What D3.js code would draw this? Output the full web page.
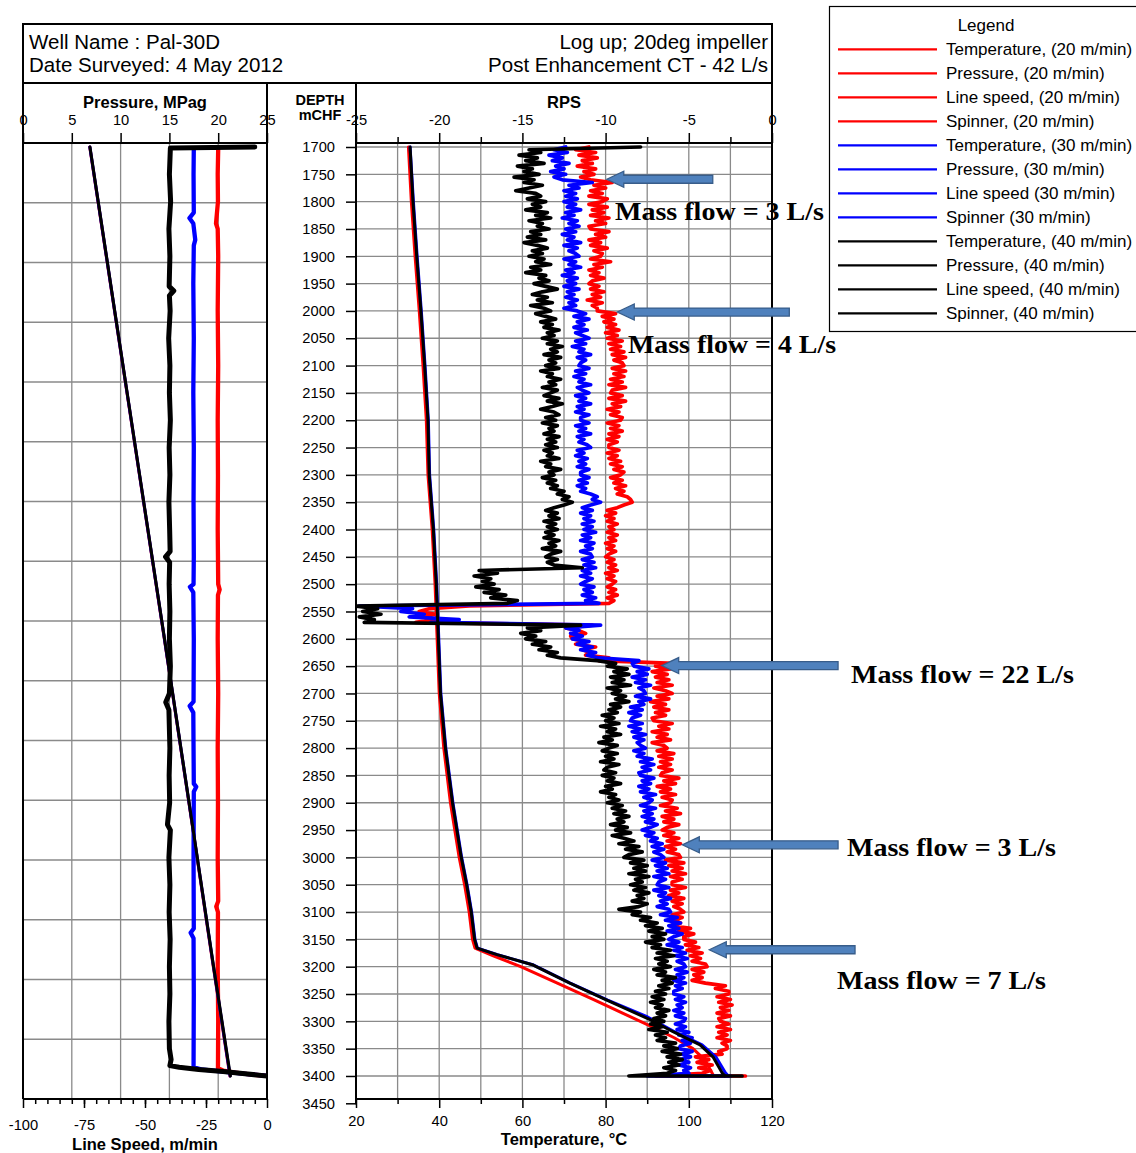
<!DOCTYPE html>
<html>
<head>
<meta charset="utf-8">
<script src="https://cdn.jsdelivr.net/npm/d3@7"></script>
<style>
  body { margin: 0; background: #fff; }
  svg { display: block; font-family: "Liberation Sans", Arial, sans-serif; }
</style>
</head>
<body>
<svg id="chart" width="1136" height="1153"></svg>
<script>
// --- Daten ---
// Tiefe in mCHF, Spinner in RPS, Temperatur in °C, Druck in MPag, Geschwindigkeit in m/min

const depthTicks = d3.range(1700, 3451, 50);
const pressureTicks = [0, 5, 10, 15, 20, 25];
const rpsTicks = [-25, -20, -15, -10, -5, 0];
const tempTicks = [20, 40, 60, 80, 100, 120];
const speedTicks = [-100, -75, -50, -25, 0];

const runs = ['20 m/min', '30 m/min', '40 m/min'];
const runColors = ['#ff0000', '#0000ff', '#000000'];

// Druck (annaehernd gerade Linie)
const pressureDepth = [1700, 2000, 2300, 2600, 2900, 3200, 3400];
const pressure20 = [6.84, 9.38, 11.93, 14.48, 17.0, 19.5, 21.2];
const pressure30 = [6.85, 9.39, 11.94, 14.49, 17.01, 19.52, 21.22];
const pressure40 = [6.86, 9.40, 11.95, 14.50, 17.02, 19.53, 21.25];

// Seilgeschwindigkeit [Tiefe, m/min]
const speed20 = [[1703,-20.0],[1750,-20.2],[1800,-20.1],[1840,-20.9],[1850,-20.2],[1900,-20.0],[2000,-20.2],
  [2100,-20.0],[2200,-20.2],[2300,-20.1],[2400,-20.2],[2500,-20.0],[2510,-19.4],[2520,-20.1],[2600,-20.2],
  [2700,-20.0],[2800,-20.2],[2900,-20.1],[3000,-20.2],[3080,-20.0],[3090,-20.8],[3100,-20.1],[3200,-20.2],
  [3300,-20.0],[3386,-20.1],[3390,-18],[3394,-13],[3397,-7],[3400,0]];
const speed30 = [[1702,-30.0],[1750,-30.1],[1820,-30.0],[1830,-31.8],[1840,-30.2],[1870,-29.4],[1880,-30.0],
  [1950,-30.2],[2050,-30.0],[2150,-30.2],[2250,-30.0],[2350,-30.1],[2450,-30.0],[2500,-30.1],[2505,-31.6],
  [2515,-30.2],[2600,-30.0],[2715,-30.1],[2723,-31.7],[2735,-30.2],[2865,-30.0],[2871,-29.0],[2880,-30.0],
  [3000,-30.1],[3130,-30.0],[3138,-31.3],[3148,-30.1],[3250,-30.0],[3384,-30.1],[3388,-27],[3392,-18],
  [3396,-9],[3400,0]];
const speed40 = [[1700,-5.0],[1702,-39.6],[1750,-40.0],[1800,-39.5],[1850,-40.2],[1900,-39.8],[1955,-40.1],
  [1963,-38.2],[1972,-40.0],[2000,-39.7],[2050,-40.3],[2100,-39.8],[2150,-40.0],[2200,-39.6],[2250,-40.1],
  [2300,-39.8],[2350,-40.2],[2400,-39.9],[2440,-39.7],[2450,-41.6],[2460,-39.9],[2500,-40.1],[2550,-39.8],
  [2600,-40.0],[2650,-39.6],[2700,-40.0],[2716,-41.5],[2730,-40.2],[2800,-39.8],[2850,-40.1],[2900,-39.9],
  [2940,-40.8],[2950,-39.6],[3000,-40.2],[3050,-39.8],[3100,-40.1],[3150,-39.7],[3200,-40.0],[3250,-39.8],
  [3300,-40.2],[3350,-40.0],[3370,-39.3],[3381,-39.8],[3384,-36],[3388,-28],[3392,-18],[3396,-9],[3400,0]];

// Temperatur [Tiefe, °C]
const temp20 = [[1700,32.6],[1800,33.3],[1900,34.2],[2000,35.2],[2100,36.1],[2200,36.9],[2300,37.3],
  [2400,38.3],[2500,39.0],[2600,39.5],[2700,40.0],[2800,41.1],[2900,42.7],[3000,44.8],[3050,46.1],
  [3100,47.2],[3150,48.0],[3166,48.6],[3180,53.0],[3200,59.6],[3230,68.4],[3260,77.0],[3290,85.5],
  [3310,91.2],[3330,96.5],[3350,101.0],[3370,103.8],[3400,106.0]];
const temp30 = [[1700,33.0],[1800,33.8],[1900,34.7],[2000,35.7],[2100,36.6],[2200,37.4],[2300,37.7],
  [2400,38.7],[2500,39.4],[2600,39.9],[2700,40.4],[2800,41.6],[2900,43.3],[3000,45.4],[3050,46.7],
  [3100,47.8],[3150,48.6],[3166,49.2],[3178,54.0],[3197,62.7],[3230,71.5],[3261,80.5],[3292,90.1],
  [3319,96.6],[3343,103.2],[3365,106.5],[3394,108.8],[3400,109.5]];
const temp40 = [[1700,33.0],[1800,33.7],[1900,34.6],[2000,35.6],[2100,36.5],[2200,37.3],[2300,37.6],
  [2400,38.6],[2500,39.3],[2600,39.8],[2700,40.3],[2800,41.5],[2900,43.2],[3000,45.3],[3050,46.6],
  [3100,47.7],[3150,48.5],[3166,49.1],[3178,53.9],[3197,62.6],[3230,71.4],[3261,80.3],[3297,90.7],
  [3319,96.2],[3343,102.7],[3365,105.8],[3394,108.0],[3400,108.7]];

// Spinner in RPS, alle 5 m von 1700 bis 3400 (eine Zeile = 50 m)
const spinnerDepth = d3.range(1700, 3401, 5);
const spinner20 = [
  -11.0,-11.8,-10.6,-11.6,-10.5,-11.4,-10.8,-11.7,-10.6,-11.3,
  -10.7,-11.5,-10.9,-9.6,-10.7,-10.0,-10.9,-10.2,-11.0,-9.9,
  -10.2,-11.0,-9.9,-10.8,-10.1,-10.9,-9.8,-10.6,-10.0,-11.0,
  -10.9,-9.8,-10.6,-10.0,-11.0,-10.3,-10.9,-9.9,-10.7,-10.2,
  -10.3,-10.9,-9.7,-10.7,-10.2,-11.0,-10.4,-10.9,-10.1,-10.8,
  -11.0,-10.4,-10.9,-10.1,-10.8,-10.3,-11.1,-10.2,-10.8,-10.5,
  -10.5,-9.4,-10.2,-9.5,-10.1,-9.4,-9.9,-9.2,-10.0,-9.3,
  -9.9,-9.0,-9.8,-9.1,-9.7,-8.9,-9.6,-8.8,-9.5,-9.0,
  -8.9,-9.6,-8.8,-9.5,-8.9,-9.7,-9.0,-9.8,-8.8,-9.6,
  -9.7,-9.0,-9.8,-8.8,-9.6,-9.1,-9.9,-9.2,-9.7,-9.0,
  -9.1,-9.9,-9.2,-9.7,-9.0,-9.8,-9.2,-9.9,-9.3,-9.8,
  -9.8,-9.2,-9.9,-9.3,-9.8,-9.1,-9.7,-9.0,-9.5,-8.9,
  -9.1,-9.7,-9.0,-9.5,-8.8,-9.4,-8.9,-9.3,-8.7,-8.5,
  -8.4,-8.9,-9.3,-9.9,-9.4,-10.0,-9.5,-9.9,-9.3,-9.8,
  -9.5,-9.9,-9.3,-9.8,-9.4,-10.0,-9.5,-9.9,-9.4,-9.8,
  -10.0,-9.5,-9.9,-9.4,-9.8,-9.3,-10.0,-9.5,-9.9,-9.4,
  -9.6,-9.9,-9.4,-9.8,-9.3,-9.9,-9.5,-9.8,-18.2,-20.6,
  -21.2,-20.2,-21.0,-20.3,-21.4,-10.8,-12.4,-11.6,-11.2,-12.1,
  -12.0,-11.3,-11.8,-10.6,-11.4,-10.9,-11.2,-9.8,-10.4,-5.9,
  -7.0,-6.1,-7.2,-6.3,-7.0,-6.2,-6.9,-6.0,-7.1,-6.4,
  -6.0,-6.9,-6.2,-7.3,-6.4,-7.1,-6.2,-7.0,-6.4,-7.2,
  -7.1,-6.0,-6.8,-6.2,-7.2,-6.3,-6.9,-6.1,-7.2,-6.5,
  -6.3,-6.9,-5.9,-6.8,-6.0,-6.7,-6.1,-6.8,-6.0,-6.6,
  -6.7,-5.6,-6.5,-5.8,-6.9,-6.1,-6.7,-5.8,-6.6,-6.0,
  -6.1,-6.7,-5.7,-6.4,-5.5,-6.6,-5.9,-6.5,-5.6,-6.3,
  -6.6,-5.9,-6.5,-5.6,-6.3,-5.5,-6.4,-5.8,-6.3,-5.6,
  -5.5,-6.4,-5.3,-6.2,-5.4,-6.0,-5.2,-6.1,-5.4,-6.0,
  -6.0,-5.2,-6.1,-5.6,-6.2,-5.3,-6.0,-5.4,-5.9,-5.5,
  -5.3,-6.0,-5.4,-5.9,-5.5,-6.1,-4.9,-5.6,-4.7,-5.3,
  -5.3,-4.6,-5.2,-4.4,-5.1,-4.2,-4.9,-4.3,-4.8,-4.0,
  -3.9,-4.8,-4.1,-4.7,-4.2,-4.8,-4.0,-2.8,-3.4,-2.6,
  -2.6,-3.3,-2.5,-3.2,-2.4,-3.1,-2.6,-3.3,-2.5,-3.2,
  -3.1,-2.6,-3.3,-2.5,-3.2,-2.7,-3.3,-2.5,-3.0,-2.7,
  -2.7,-3.2,-3.0,-4.6,-3.8,-4.5,-3.6,-4.4,-3.7,-4.2,
  -7.0];
const spinner30 = [
  -12.4,-13.1,-12.3,-13.4,-12.6,-13.2,-12.2,-13.0,-12.5,-13.3,
  -12.4,-13.1,-12.6,-10.8,-12.2,-11.6,-12.5,-11.8,-12.4,-11.7,
  -12.5,-11.8,-12.3,-11.5,-12.4,-11.9,-12.6,-11.7,-12.2,-11.6,
  -12.4,-11.8,-12.6,-11.9,-12.3,-11.5,-12.5,-11.7,-12.2,-11.8,
  -11.6,-12.5,-11.8,-12.2,-11.5,-12.4,-11.9,-12.6,-11.7,-12.3,
  -11.8,-12.5,-11.6,-12.3,-11.9,-12.4,-11.7,-12.2,-11.8,-12.5,
  -11.7,-11.2,-11.9,-11.0,-11.7,-11.3,-11.9,-11.1,-11.8,-11.4,
  -11.0,-11.8,-11.2,-12.0,-11.3,-11.6,-10.9,-11.7,-11.2,-11.5,
  -11.6,-11.0,-11.8,-11.2,-11.9,-11.3,-11.6,-10.9,-11.7,-11.4,
  -11.0,-11.8,-11.2,-11.6,-10.9,-11.7,-11.3,-11.8,-11.0,-11.5,
  -11.5,-11.0,-11.8,-11.2,-11.6,-10.9,-11.7,-11.3,-11.6,-11.1,
  -10.9,-11.7,-11.3,-11.8,-11.1,-11.6,-11.2,-11.7,-11.0,-11.5,
  -11.5,-11.0,-11.6,-11.1,-11.7,-11.2,-11.5,-10.9,-10.5,-10.8,
  -10.3,-10.9,-11.4,-10.8,-11.5,-10.9,-11.3,-10.7,-11.4,-10.8,
  -11.3,-10.6,-11.4,-10.9,-11.5,-10.7,-11.2,-10.8,-11.5,-10.9,
  -10.8,-11.4,-10.7,-11.3,-10.6,-11.4,-10.9,-11.5,-10.8,-11.2,
  -11.5,-10.7,-11.3,-10.8,-11.4,-10.6,-11.2,-10.4,-24.8,-21.6,
  -22.3,-20.9,-21.8,-18.8,-20.5,-10.3,-12.4,-11.6,-12.1,-11.4,
  -12.0,-11.0,-11.7,-10.8,-11.5,-10.6,-11.1,-10.4,-8.0,-8.4,
  -8.3,-7.4,-8.1,-7.5,-8.4,-7.6,-8.2,-7.3,-8.0,-7.7,
  -7.6,-8.2,-7.3,-8.0,-7.7,-8.5,-7.8,-8.6,-7.9,-8.4,
  -8.5,-7.8,-8.6,-7.9,-8.4,-7.6,-8.3,-7.7,-8.1,-7.9,
  -7.6,-8.3,-7.7,-8.1,-7.2,-7.9,-7.1,-7.8,-7.3,-8.0,
  -7.9,-7.1,-7.8,-7.3,-8.0,-7.4,-7.9,-7.0,-7.7,-7.2,
  -7.4,-7.9,-7.0,-7.7,-7.2,-7.8,-7.1,-7.6,-6.9,-7.3,
  -7.8,-7.1,-7.6,-6.9,-7.3,-6.6,-7.2,-6.5,-7.1,-6.7,
  -6.5,-7.2,-6.4,-7.0,-6.3,-6.9,-6.2,-7.1,-6.4,-6.8,
  -6.9,-6.2,-7.1,-6.4,-6.8,-6.1,-6.7,-6.3,-6.9,-6.2,
  -6.1,-6.7,-5.7,-6.4,-5.5,-6.2,-5.6,-6.3,-5.4,-5.9,
  -6.2,-5.6,-6.3,-5.4,-5.9,-5.2,-5.8,-5.1,-5.7,-5.3,
  -5.2,-5.8,-5.1,-5.7,-5.3,-5.9,-5.2,-5.8,-5.4,-5.9,
  -5.9,-5.3,-5.8,-5.2,-5.7,-5.4,-5.9,-5.3,-5.8,-5.2,
  -5.3,-5.8,-5.2,-5.7,-5.0,-5.6,-4.8,-5.4,-4.9,-5.5,
  -5.6,-4.8,-5.4,-4.9,-5.5,-5.0,-5.6,-4.9,-5.3,-5.0,
  -7.5];
const spinner40 = [
  -7.9,-14.6,-13.9,-15.2,-14.1,-14.8,-13.7,-15.3,-14.4,-14.9,
  -14.0,-15.5,-14.3,-14.9,-13.8,-14.6,-15.4,-14.2,-13.9,-14.7,
  -13.6,-14.4,-13.9,-14.8,-13.5,-14.2,-13.3,-14.6,-13.8,-14.1,
  -13.4,-14.5,-13.9,-14.7,-13.6,-14.9,-14.1,-13.5,-14.4,-13.8,
  -14.6,-13.7,-14.2,-13.3,-14.5,-13.9,-14.8,-13.6,-14.0,-13.4,
  -14.3,-13.6,-12.9,-13.8,-14.4,-13.5,-14.1,-13.2,-14.5,-13.7,
  -13.3,-14.2,-13.6,-13.0,-13.9,-13.2,-13.7,-12.8,-13.5,-13.1,
  -13.8,-12.9,-13.5,-12.6,-13.3,-12.9,-13.7,-12.7,-13.4,-13.0,
  -13.6,-12.8,-13.9,-13.2,-13.5,-12.7,-13.4,-13.0,-13.8,-12.9,
  -13.3,-13.7,-12.8,-13.5,-12.6,-13.2,-13.9,-13.1,-12.8,-13.6,
  -13.0,-13.8,-12.9,-13.4,-13.1,-13.7,-12.8,-13.5,-13.0,-13.6,
  -12.9,-13.7,-13.2,-13.5,-12.8,-13.9,-13.3,-13.6,-12.7,-13.4,
  -13.1,-13.8,-13.0,-13.5,-12.9,-13.3,-12.5,-12.9,-12.2,-12.6,
  -12.0,-12.5,-13.1,-13.6,-12.9,-13.4,-12.8,-13.7,-13.0,-13.5,
  -12.9,-13.6,-13.1,-13.7,-12.8,-13.4,-13.0,-13.8,-12.7,-13.3,
  -13.6,-12.9,-13.5,-13.1,-11.4,-17.6,-16.5,-17.9,-16.9,-17.4,
  -16.7,-17.8,-16.4,-17.3,-16.0,-16.9,-15.3,-15.9,-25.0,-23.7,
  -24.6,-23.5,-24.8,-23.9,-24.5,-11.5,-14.7,-13.9,-15.1,-14.2,
  -14.8,-13.6,-14.4,-13.3,-14.0,-12.9,-13.5,-12.7,-10.5,-9.4,
  -9.9,-8.7,-9.5,-8.6,-9.7,-8.9,-9.6,-8.5,-9.9,-9.1,
  -9.6,-8.8,-9.4,-8.6,-9.7,-9.1,-9.8,-9.3,-10.2,-9.5,
  -10.0,-9.2,-10.3,-9.4,-9.9,-9.1,-10.1,-9.6,-10.4,-9.3,
  -9.8,-10.2,-9.3,-10.0,-9.5,-10.3,-9.2,-9.9,-10.1,-9.4,
  -10.2,-9.5,-9.9,-9.1,-10.0,-9.6,-10.3,-9.4,-9.8,-9.2,
  -9.9,-9.0,-9.6,-8.8,-9.5,-8.6,-9.3,-8.9,-9.7,-8.7,
  -9.4,-8.5,-9.6,-8.9,-8.3,-9.2,-8.0,-8.8,-7.8,-8.6,
  -8.9,-7.7,-8.5,-7.5,-8.3,-7.6,-8.6,-7.4,-8.2,-7.8,
  -8.5,-7.6,-8.3,-7.4,-8.1,-7.7,-8.4,-7.5,-8.0,-9.2,
  -7.9,-8.4,-7.3,-7.9,-6.9,-7.6,-6.6,-7.4,-6.4,-7.2,
  -6.5,-7.6,-6.7,-7.2,-6.1,-6.9,-5.9,-7.0,-6.3,-6.8,
  -6.1,-7.1,-6.4,-6.9,-5.8,-6.6,-6.0,-6.8,-6.2,-7.0,
  -6.4,-7.2,-6.5,-7.3,-6.6,-7.0,-6.2,-6.9,-6.4,-7.1,
  -6.5,-7.3,-6.6,-7.4,-6.3,-7.0,-6.4,-6.9,-5.8,-6.5,
  -5.7,-6.6,-5.5,-6.3,-5.4,-6.2,-5.6,-6.5,-5.8,-6.3,
  -8.6];
// letzter Punkt bei 3400 m (waagrechter Auslauf nach rechts)
const spinnerEnd = [-1.6, -2.5, -1.8];

const legendLabels = [
  'Temperature, (20 m/min)', 'Pressure, (20 m/min)', 'Line speed, (20 m/min)', 'Spinner, (20 m/min)',
  'Temperature, (30 m/min)', 'Pressure, (30 m/min)', 'Line speed (30 m/min)', 'Spinner (30 m/min)',
  'Temperature, (40 m/min)', 'Pressure, (40 m/min)', 'Line speed, (40 m/min)', 'Spinner, (40 m/min)'];

// Pfeile: Spitze [RPS, Tiefe], Ende in RPS, Beschriftung
const arrowTips = [[-9.93, 1759], [-9.30, 2002], [-6.63, 2649], [-5.39, 2977], [-3.77, 3169]];
const arrowTails = [-3.56, 1.04, 3.97, 3.97, 4.99];
const arrowLabels = ['Mass flow = 3 L/s', 'Mass flow = 4 L/s', 'Mass flow = 22 L/s', 'Mass flow = 3 L/s', 'Mass flow = 7 L/s'];

// --- Layout ---
const svg = d3.select('#chart');
const PLOT_TOP = 143, PLOT_BOTTOM = 1099;
const LEFT_X0 = 23, LEFT_X1 = 267, RIGHT_X0 = 356, RIGHT_X1 = 772;
const GRID = '#8a8a8a';
const TICK_FONT = 14.7;

const yDepth = d3.scaleLinear().domain([1700, 3450]).range([147, 1103.3]);
const xPress = d3.scaleLinear().domain([0, 25]).range([LEFT_X0, LEFT_X1]);
const xSpeed = d3.scaleLinear().domain([-100, 0]).range([LEFT_X0, LEFT_X1]);
const xRps = d3.scaleLinear().domain([-25, 0]).range([RIGHT_X0, RIGHT_X1]);
const xTemp = d3.scaleLinear().domain([20, 120]).range([RIGHT_X0, RIGHT_X1]);

// Clip-Pfade fuer beide Panels
const defs = svg.append('defs');
defs.append('clipPath').attr('id', 'clip-left').append('rect')
  .attr('x', LEFT_X0).attr('y', PLOT_TOP).attr('width', LEFT_X1 - LEFT_X0).attr('height', PLOT_BOTTOM - PLOT_TOP);
defs.append('clipPath').attr('id', 'clip-right').append('rect')
  .attr('x', RIGHT_X0).attr('y', PLOT_TOP).attr('width', RIGHT_X1 - RIGHT_X0).attr('height', PLOT_BOTTOM - PLOT_TOP);

// --- Gitter ---
const grid = svg.append('g').attr('stroke', GRID).attr('stroke-width', 1.3);
[5, 10, 15, 20].forEach(p => {
  grid.append('line').attr('x1', xPress(p)).attr('x2', xPress(p)).attr('y1', PLOT_TOP).attr('y2', PLOT_BOTTOM);
});
d3.range(1, 16).forEach(i => {
  const y = PLOT_TOP + i * (PLOT_BOTTOM - PLOT_TOP) / 16;
  grid.append('line').attr('x1', LEFT_X0).attr('x2', LEFT_X1).attr('y1', y).attr('y2', y);
});
d3.range(-22.5, 0, 2.5).forEach(r => {
  grid.append('line').attr('x1', xRps(r)).attr('x2', xRps(r)).attr('y1', PLOT_TOP).attr('y2', PLOT_BOTTOM);
});
d3.range(1700, 3401, 50).forEach(d => {
  grid.append('line').attr('x1', RIGHT_X0).attr('x2', RIGHT_X1).attr('y1', yDepth(d)).attr('y2', yDepth(d));
});

// --- Kurven ---
const left = svg.append('g').attr('clip-path', 'url(#clip-left)').attr('fill', 'none')
  .attr('stroke-linejoin', 'round').attr('stroke-linecap', 'round');
const right = svg.append('g').attr('clip-path', 'url(#clip-right)').attr('fill', 'none')
  .attr('stroke-linejoin', 'round').attr('stroke-linecap', 'round');

const pressLine = d3.line().x(d => xPress(d[1])).y(d => yDepth(d[0]));
const speedLine = d3.line().x(d => xSpeed(d[1])).y(d => yDepth(d[0]));
const rpsLine = d3.line().x(d => xRps(d[1])).y(d => yDepth(d[0]));
const tempLine = d3.line().x(d => xTemp(d[1])).y(d => yDepth(d[0]));

const pressures = [pressure20, pressure30, pressure40];
const speeds = [speed20, speed30, speed40];
const temps = [temp20, temp30, temp40];
const spinners = [spinner20, spinner30, spinner40];

runs.forEach((run, i) => {
  const pts = pressureDepth.map((d, k) => [d, pressures[i][k]]);
  left.append('path').attr('d', pressLine(pts)).attr('stroke', runColors[i]).attr('stroke-width', 3);
  left.append('path').attr('d', speedLine(speeds[i])).attr('stroke', runColors[i]).attr('stroke-width', i === 2 ? 5 : 4.3);
});

runs.forEach((run, i) => {
  right.append('path').attr('d', tempLine(temps[i])).attr('stroke', runColors[i]).attr('stroke-width', 3);
  const pts = spinners[i].map((v, k) => [spinnerDepth[k], v]);
  pts.push([3400, spinnerEnd[i]]);
  right.append('path').attr('d', rpsLine(pts)).attr('stroke', runColors[i]).attr('stroke-width', 3.7);
});

// --- Rahmen ---
const frame = svg.append('g').attr('stroke', '#000').attr('fill', 'none').attr('stroke-width', 2);
frame.append('rect').attr('x', LEFT_X0).attr('y', 24).attr('width', RIGHT_X1 - LEFT_X0).attr('height', 59);
[LEFT_X0, LEFT_X1, RIGHT_X0, RIGHT_X1].forEach(x => {
  frame.append('line').attr('x1', x).attr('x2', x).attr('y1', 83).attr('y2', PLOT_BOTTOM);
});
[[LEFT_X0, LEFT_X1], [RIGHT_X0, RIGHT_X1]].forEach(([a, b]) => {
  frame.append('line').attr('x1', a).attr('x2', b).attr('y1', PLOT_TOP).attr('y2', PLOT_TOP);
  frame.append('line').attr('x1', a).attr('x2', b).attr('y1', PLOT_BOTTOM).attr('y2', PLOT_BOTTOM);
});

// --- Achsen ---
function styleAxis(g) {
  g.select('.domain').remove();
  g.selectAll('.tick line').attr('stroke', '#000').attr('stroke-width', 1.5);
  g.selectAll('.tick text').attr('fill', '#000').style('font-size', TICK_FONT + 'px')
    .style('font-family', '"Liberation Sans", Arial, sans-serif');
}
const fmt = d => String(d);

svg.append('g').attr('transform', `translate(0,${PLOT_TOP})`)
  .call(d3.axisTop(xPress).tickValues(pressureTicks).tickSize(10).tickPadding(8).tickFormat(fmt))
  .call(styleAxis);

svg.append('g').attr('transform', `translate(0,${PLOT_TOP})`)
  .call(d3.axisTop(xRps).tickValues(d3.range(-22.5, 0, 5)).tickSize(6).tickFormat(''))
  .call(styleAxis);
svg.append('g').attr('transform', `translate(0,${PLOT_TOP})`)
  .call(d3.axisTop(xRps).tickValues(rpsTicks).tickSize(10).tickPadding(8).tickFormat(fmt))
  .call(styleAxis);

svg.append('g').attr('transform', `translate(0,${PLOT_BOTTOM})`)
  .call(d3.axisBottom(xSpeed).tickValues(d3.range(-95, 0, 5)).tickSize(5).tickFormat(''))
  .call(styleAxis);
svg.append('g').attr('transform', `translate(0,${PLOT_BOTTOM})`)
  .call(d3.axisBottom(xSpeed).tickValues(speedTicks).tickSize(9).tickPadding(12).tickFormat(fmt))
  .call(styleAxis);

svg.append('g').attr('transform', `translate(0,${PLOT_BOTTOM})`)
  .call(d3.axisBottom(xTemp).tickValues(d3.range(30, 120, 20)).tickSize(5).tickFormat(''))
  .call(styleAxis);
svg.append('g').attr('transform', `translate(0,${PLOT_BOTTOM})`)
  .call(d3.axisBottom(xTemp).tickValues(tempTicks).tickSize(9).tickPadding(8).tickFormat(fmt))
  .call(styleAxis);

svg.append('g').attr('transform', `translate(${RIGHT_X0},0)`)
  .call(d3.axisLeft(yDepth).tickValues(depthTicks).tickSize(10).tickPadding(11).tickFormat(fmt))
  .call(styleAxis);
svg.append('line').attr('x1', RIGHT_X0).attr('x2', RIGHT_X0).attr('y1', PLOT_BOTTOM).attr('y2', yDepth(3450) + 1)
  .attr('stroke', '#000').attr('stroke-width', 2);

// --- Titel ---
const titles = svg.append('g').attr('fill', '#000').attr('font-weight', 'bold').attr('text-anchor', 'middle')
  .style('font-size', '16.5px');
titles.append('text').attr('x', (LEFT_X0 + LEFT_X1) / 2).attr('y', 108).text('Pressure, MPag');
titles.append('text').attr('x', (RIGHT_X0 + RIGHT_X1) / 2).attr('y', 108).text('RPS');
titles.append('text').attr('x', (LEFT_X0 + LEFT_X1) / 2).attr('y', 1150).text('Line Speed, m/min');
titles.append('text').attr('x', (RIGHT_X0 + RIGHT_X1) / 2).attr('y', 1145).text('Temperature, °C');
titles.append('text').attr('x', 320).attr('y', 105).style('font-size', '14.5px').text('DEPTH');
titles.append('text').attr('x', 320).attr('y', 120).style('font-size', '14.5px').text('mCHF');

const header = svg.append('g').attr('fill', '#000').style('font-size', '20.5px');
header.append('text').attr('x', 29).attr('y', 49).text('Well Name : Pal-30D');
header.append('text').attr('x', 29).attr('y', 72).text('Date Surveyed: 4 May 2012');
header.append('text').attr('x', 768).attr('y', 49).attr('text-anchor', 'end').text('Log up; 20deg impeller');
header.append('text').attr('x', 768).attr('y', 72).attr('text-anchor', 'end').text('Post Enhancement CT - 42 L/s');

// --- Pfeile und Beschriftungen ---
const ann = svg.append('g');
const labelPos = [[615, 220], [628, 353], [851, 683], [847, 856], [837, 989]];
const labelWidth = [209, 208, 223, 209, 209];
arrowTips.forEach((tip, i) => {
  const tx = xRps(tip[0]), ty = yDepth(tip[1]), ex = xRps(arrowTails[i]);
  const hx = tx + 17;
  const pts = [[tx, ty], [hx, ty - 8], [hx, ty - 4], [ex, ty - 4], [ex, ty + 4], [hx, ty + 4], [hx, ty + 8]];
  ann.append('polygon').attr('points', pts.map(p => p.join(',')).join(' '))
    .attr('fill', '#4f81bd').attr('stroke', '#385d8a').attr('stroke-width', 1.3);
  ann.append('text').attr('x', labelPos[i][0]).attr('y', labelPos[i][1])
    .style('font-family', '"Liberation Serif", "Times New Roman", serif')
    .style('font-size', '25px').attr('font-weight', 'bold')
    .attr('textLength', labelWidth[i]).attr('lengthAdjust', 'spacingAndGlyphs')
    .text(arrowLabels[i]);
});

// --- Legende ---
const legend = svg.append('g');
legend.append('rect').attr('x', 829.5).attr('y', 6.5).attr('width', 330).attr('height', 325)
  .attr('fill', '#fff').attr('stroke', '#000').attr('stroke-width', 1.2);
legend.append('text').attr('x', 986).attr('y', 31).attr('text-anchor', 'middle').style('font-size', '17px').text('Legend');
legendLabels.forEach((lab, i) => {
  const y = 49.3 + i * 24;
  legend.append('line').attr('x1', 838).attr('x2', 937).attr('y1', y).attr('y2', y)
    .attr('stroke', runColors[Math.floor(i / 4)]).attr('stroke-width', 2.3);
  legend.append('text').attr('x', 946).attr('y', y + 6).style('font-size', '17px').text(lab);
});
</script>
</body>
</html>
